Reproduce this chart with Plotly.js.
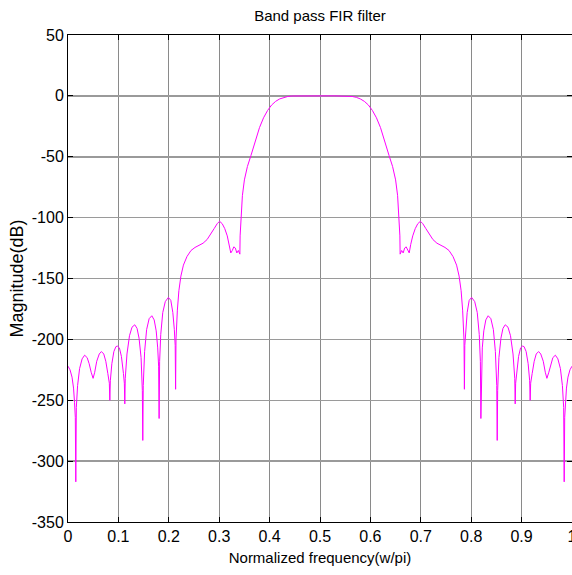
<!DOCTYPE html>
<html>
<head>
<meta charset="utf-8">
<script src="https://cdn.plot.ly/plotly-3.0.1.min.js"></script>
<style>html,body{margin:0;padding:0;background:#fff;}#chart{width:572px;height:575px;}</style>
</head>
<body>
<div id="chart"></div>
<script>
// Normalized frequency (w/pi)
const freq = [
  0.000, 0.004, 0.008, 0.011, 0.013, 0.0145, 0.0155, 0.0165, 0.019, 0.023,
  0.028, 0.033, 0.038, 0.042, 0.046, 0.0498, 0.053, 0.057, 0.062, 0.0663,
  0.071, 0.075, 0.079, 0.082, 0.083, 0.084, 0.087, 0.091, 0.095, 0.098,
  0.102, 0.106, 0.110, 0.1118, 0.1127, 0.1136, 0.117, 0.122, 0.127, 0.1325,
  0.137, 0.141, 0.145, 0.1475, 0.1484, 0.1493, 0.152, 0.156, 0.161, 0.1663,
  0.171, 0.175, 0.178, 0.1798, 0.1808, 0.1818, 0.184, 0.188, 0.193, 0.1992,
  0.204, 0.208, 0.211, 0.2127, 0.2135, 0.2143, 0.217, 0.220, 0.224, 0.229,
  0.236, 0.244, 0.252, 0.260, 0.268, 0.276, 0.283, 0.290, 0.296, 0.3008,
  0.306, 0.311, 0.316, 0.320, 0.323, 0.326, 0.329, 0.332, 0.335, 0.338,
  0.341, 0.3415, 0.343, 0.346, 0.350, 0.356, 0.363, 0.372, 0.380, 0.388,
  0.396, 0.404, 0.412, 0.420, 0.428, 0.436, 0.445, 0.455, 0.470, 0.485,
  0.500, 0.515, 0.530, 0.545, 0.555, 0.564, 0.572, 0.580, 0.588, 0.596,
  0.604, 0.612, 0.620, 0.628, 0.637, 0.644, 0.650, 0.654, 0.657, 0.6585,
  0.659, 0.662, 0.665, 0.668, 0.671, 0.674, 0.677, 0.680, 0.684, 0.689,
  0.694, 0.6992, 0.704, 0.710, 0.717, 0.724, 0.732, 0.740, 0.748, 0.756,
  0.764, 0.771, 0.776, 0.780, 0.783, 0.7857, 0.7865, 0.7873, 0.789, 0.792,
  0.796, 0.8008, 0.807, 0.812, 0.816, 0.8182, 0.8192, 0.8202, 0.822, 0.825,
  0.829, 0.8337, 0.839, 0.844, 0.848, 0.8507, 0.8516, 0.8525, 0.855, 0.859,
  0.863, 0.8675, 0.873, 0.878, 0.883, 0.8864, 0.8873, 0.8882, 0.890, 0.894,
  0.898, 0.902, 0.905, 0.909, 0.913, 0.916, 0.917, 0.918, 0.921, 0.925,
  0.929, 0.9337, 0.938, 0.943, 0.947, 0.9502, 0.954, 0.958, 0.962, 0.967,
  0.972, 0.977, 0.981, 0.9835, 0.9845, 0.9855, 0.987, 0.989, 0.992, 0.996,
  1.000
];
// Magnitude (dB)
const magnitudeDb = [
  -222, -225, -231, -240, -252, -264, -317, -256, -238, -224,
  -216, -213, -215, -220, -227, -232, -227, -218, -212, -210,
  -212, -218, -228, -236, -250, -234, -220, -210, -206, -205.5,
  -207, -214, -228, -236, -253, -232, -212, -197, -190, -188,
  -191, -199, -215, -242, -283, -238, -210, -192, -183, -180.6,
  -184, -193, -207, -222, -265, -218, -196, -178, -169, -165.5,
  -168, -178, -192, -205, -241, -200, -176, -160, -148, -139,
  -132, -127, -124.5, -122.5, -121, -118, -114, -109, -105, -103,
  -105, -109, -115, -122, -129, -127, -124, -125, -129, -127,
  -130, -115, -100, -82, -69, -58, -49, -36, -26, -18,
  -12, -7.5, -4.5, -2.5, -1.2, -0.5, -0.1, 0, 0, 0,
  0, 0, 0, 0, -0.1, -0.5, -1.2, -2.5, -4.5, -7.5,
  -12, -18, -26, -36, -49, -58, -69, -82, -100, -115,
  -130, -127, -129, -125, -124, -127, -129, -122, -115, -109,
  -105, -103, -105, -109, -114, -118, -121, -122.5, -124.5, -127,
  -132, -139, -148, -160, -176, -200, -241, -205, -192, -178,
  -168, -165.5, -169, -178, -196, -218, -265, -222, -207, -193,
  -184, -180.6, -183, -192, -210, -238, -283, -242, -215, -199,
  -191, -188, -190, -197, -212, -232, -253, -236, -228, -214,
  -207, -205.5, -206, -210, -220, -234, -250, -236, -228, -218,
  -212, -210, -212, -218, -227, -232, -227, -220, -215, -213,
  -216, -224, -238, -256, -317, -264, -252, -240, -231, -225,
  -222
];
const xTickVals = [0, 0.1, 0.2, 0.3, 0.4, 0.5, 0.6, 0.7, 0.8, 0.9, 1];
const xTickText = ['0', '0.1', '0.2', '0.3', '0.4', '0.5', '0.6', '0.7', '0.8', '0.9', '1'];
const yTickVals = [50, 0, -50, -100, -150, -200, -250, -300, -350];
const yTickText = ['50', '0', '-50', '-100', '-150', '-200', '-250', '-300', '-350'];

const sans = 'Liberation Sans, Arial, sans-serif';

const trace = {
  x: freq,
  y: magnitudeDb,
  type: 'scatter',
  mode: 'lines',
  line: {color: '#ff00ff', width: 1},
  hoverinfo: 'skip'
};

const axisCommon = {
  showline: true,
  linecolor: '#000',
  linewidth: 1,
  mirror: 'ticks',
  ticks: 'inside',
  ticklen: 5,
  tickcolor: '#000',
  zeroline: false,
  showgrid: true,
  ticklabeloverflow: 'allow',
  tickfont: {family: sans, size: 16, color: '#000'}
};

const layout = {
  width: 572,
  height: 575,
  margin: {l: 68, r: 0, t: 35, b: 53},
  paper_bgcolor: '#fff',
  plot_bgcolor: '#fff',
  showlegend: false,
  title: {
    text: 'Band pass FIR filter',
    font: {family: sans, size: 15, color: '#000'},
    x: 0.5, xref: 'paper', xanchor: 'center',
    y: 1 - 16 / 575, yref: 'container', yanchor: 'middle'
  },
  xaxis: Object.assign({}, axisCommon, {
    range: [0, 1],
    tickmode: 'array',
    tickvals: xTickVals,
    ticktext: xTickText,
    gridcolor: '#8a8a8a',
    gridwidth: 1,
    title: {text: 'Normalized frequency(w/pi)', font: {family: sans, size: 15, color: '#000'}, standoff: 8}
  }),
  yaxis: Object.assign({}, axisCommon, {
    range: [-350, 50],
    tickmode: 'array',
    tickvals: yTickVals,
    ticktext: yTickText,
    gridcolor: '#9a9a9a',
    gridwidth: 1.5,
    title: {text: 'Magnitude(dB)', font: {family: sans, size: 18, color: '#000'}, standoff: 3}
  })
};

Plotly.newPlot('chart', [trace], layout, {displayModeBar: false, staticPlot: true});
</script>
</body>
</html>
